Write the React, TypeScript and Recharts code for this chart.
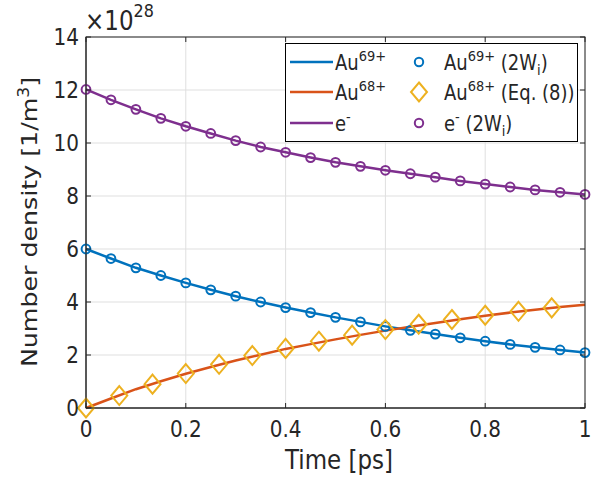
import React from 'react';
import { ComposedChart, Line, Scatter, XAxis, YAxis, CartesianGrid } from 'recharts';

// time grid of the model curves and the 2W_i markers [ps]
const times = [0, 0.05, 0.1, 0.15, 0.2, 0.25, 0.3, 0.35, 0.4, 0.45, 0.5, 0.55, 0.6, 0.65, 0.7, 0.75, 0.8, 0.85, 0.9, 0.95, 1];
// number densities in units of 1e28 1/m^3
const au69 = [6.0, 5.64, 5.29, 5.0, 4.72, 4.46, 4.22, 4.0, 3.79, 3.6, 3.42, 3.25, 3.08, 2.93, 2.79, 2.65, 2.52, 2.4, 2.29, 2.19, 2.09];
const au68 = [0, 0.36, 0.71, 1.01, 1.29, 1.55, 1.79, 2.01, 2.23, 2.41, 2.59, 2.76, 2.92, 3.07, 3.21, 3.35, 3.48, 3.6, 3.71, 3.81, 3.9];
const electrons = [12.02, 11.63, 11.27, 10.93, 10.63, 10.36, 10.09, 9.85, 9.65, 9.45, 9.27, 9.12, 8.97, 8.84, 8.71, 8.57, 8.45, 8.34, 8.23, 8.14, 8.06];

// Eq. (8) points
const eqTimes = [0, 0.0667, 0.1333, 0.2, 0.2667, 0.3333, 0.4, 0.4667, 0.5333, 0.6, 0.6667, 0.7333, 0.8, 0.8667, 0.9333];
const au68Eq = [0, 0.47, 0.9, 1.3, 1.65, 1.98, 2.25, 2.52, 2.75, 2.96, 3.16, 3.34, 3.5, 3.65, 3.78];

const xTicks = [0, 0.2, 0.4, 0.6, 0.8, 1];
const yTicks = [0, 2, 4, 6, 8, 10, 12, 14];

const W = 596;
const H = 479;
const LEFT = 86;
const RIGHT = 585;
const TOP = 37;
const BOTTOM = 408;
const AXIS = '#262626';
const FONT = '"DejaVu Sans", sans-serif';
const SY = 1.15; // the figure is a little taller than wide, text too

const BLUE = '#0072BD';
const RED = '#D95319';
const PURPLE = '#7E2F8E';
const YELLOW = '#EDB120';

const rows = times.map((t, i) => ({ t, au69: au69[i], au68: au68[i], e: electrons[i] }));
const eqRows = eqTimes.map((t, i) => ({ t, v: au68Eq[i] }));

// text stretched vertically about its baseline
const T = ({ x, y, size, anchor, children }: any) => (
  <text
    transform={`translate(${x} ${y}) scale(1 ${SY})`}
    textAnchor={anchor || 'start'}
    fontSize={size}
    fontFamily={FONT}
    fill={AXIS}
  >
    {children}
  </text>
);

const ring = (color: string) => (p: any) => (
  <circle cx={p.cx} cy={p.cy} r={4.4} fill="none" stroke={color} strokeWidth={2} />
);

const diamond = (p: any) => (
  <path
    d={`M${p.cx},${p.cy - 9.5} L${p.cx + 8},${p.cy} L${p.cx},${p.cy + 9.5} L${p.cx - 8},${p.cy} Z`}
    fill="none"
    stroke={YELLOW}
    strokeWidth={2}
  />
);

const XTick = (p: any) => (
  <g>
    <line x1={p.x} x2={p.x} y1={BOTTOM} y2={BOTTOM - 5} stroke={AXIS} />
    <line x1={p.x} x2={p.x} y1={TOP} y2={TOP + 5} stroke={AXIS} />
    <T x={p.x} y={BOTTOM + 29} size={20} anchor="middle">
      {String(p.payload.value)}
    </T>
  </g>
);

const YTick = (p: any) => (
  <g>
    <line x1={LEFT} x2={LEFT + 5} y1={p.y} y2={p.y} stroke={AXIS} />
    <line x1={RIGHT} x2={RIGHT - 5} y1={p.y} y2={p.y} stroke={AXIS} />
    <T x={79} y={p.y + 8} size={20} anchor="end">
      {String(p.payload.value)}
    </T>
  </g>
);

function LegendOverlay() {
  const rowsY = [62, 92, 123];
  const big = 18;
  const small = 13;
  return (
    <svg width={W} height={H} style={{ position: 'absolute', left: 0, top: 0, pointerEvents: 'none' }}>
      <rect x={LEFT} y={TOP} width={RIGHT - LEFT} height={BOTTOM - TOP} fill="none" stroke={AXIS} strokeWidth={1} />
      <T x={85} y={30} size={23}>
        ×10<tspan fontSize={16} dy={-11}>28</tspan>
      </T>

      <rect x={285.5} y={43.5} width={292} height={98} fill="#fff" stroke="#000" strokeWidth={1} />
      {[BLUE, RED, PURPLE].map((c, i) => (
        <line key={c} x1={290} x2={333} y1={rowsY[i]} y2={rowsY[i]} stroke={c} strokeWidth={2.5} />
      ))}
      <T x={335} y={rowsY[0] + 8} size={big}>
        Au<tspan fontSize={small} dy={-8}>69+</tspan>
      </T>
      <T x={335} y={rowsY[1] + 8} size={big}>
        Au<tspan fontSize={small} dy={-8}>68+</tspan>
      </T>
      <T x={335} y={rowsY[2] + 8} size={big}>
        e<tspan fontSize={small} dy={-8}>-</tspan>
      </T>

      <circle cx={419} cy={rowsY[0]} r={4.2} fill="none" stroke={BLUE} strokeWidth={2} />
      <path
        d={`M419,${rowsY[1] - 9.5} L427,${rowsY[1]} L419,${rowsY[1] + 9.5} L411,${rowsY[1]} Z`}
        fill="none"
        stroke={YELLOW}
        strokeWidth={2}
      />
      <circle cx={419} cy={rowsY[2]} r={4.2} fill="none" stroke={PURPLE} strokeWidth={2} />

      <T x={444} y={rowsY[0] + 8} size={big}>
        Au<tspan fontSize={small} dy={-8}>69+</tspan>
        <tspan dy={8}> (2W</tspan>
        <tspan fontSize={small} dy={4}>i</tspan>
        <tspan dy={-4}>)</tspan>
      </T>
      <T x={444} y={rowsY[1] + 8} size={big}>
        Au<tspan fontSize={small} dy={-8}>68+</tspan>
        <tspan dy={8}> (Eq. (8))</tspan>
      </T>
      <T x={444} y={rowsY[2] + 8} size={big}>
        e<tspan fontSize={small} dy={-8}>-</tspan>
        <tspan dy={8}> (2W</tspan>
        <tspan fontSize={small} dy={4}>i</tspan>
        <tspan dy={-4}>)</tspan>
      </T>

      <T x={339} y={469} size={23} anchor="middle">
        Time [ps]
      </T>
      <text
        transform={`translate(37 222) scale(1 ${SY}) rotate(-90)`}
        textAnchor="middle"
        fontSize={22}
        fontFamily={FONT}
        fill={AXIS}
      >
        Number density [1/m<tspan fontSize={15} dy={-8}>3</tspan>
        <tspan dy={8}>]</tspan>
      </text>
    </svg>
  );
}

export default function App() {
  return (
    <div style={{ position: 'absolute', left: 0, top: 0, width: W, height: H, background: '#fff' }}>
      <ComposedChart width={W} height={H} data={rows} margin={{ top: TOP, right: W - RIGHT, bottom: 0, left: 0 }}>
        <CartesianGrid stroke="#dfdfdf" strokeWidth={1} />
        <XAxis
          dataKey="t"
          type="number"
          domain={[0, 1]}
          ticks={xTicks}
          interval={0}
          height={H - BOTTOM}
          tickLine={false}
          axisLine={{ stroke: AXIS }}
          tick={<XTick />}
        />
        <YAxis
          type="number"
          domain={[0, 14]}
          ticks={yTicks}
          interval={0}
          width={LEFT}
          tickLine={false}
          axisLine={{ stroke: AXIS }}
          tick={<YTick />}
        />
        <Line dataKey="au69" stroke={BLUE} strokeWidth={2.5} dot={false} isAnimationActive={false} />
        <Line dataKey="au68" stroke={RED} strokeWidth={2.5} dot={false} isAnimationActive={false} />
        <Line dataKey="e" stroke={PURPLE} strokeWidth={2.5} dot={false} isAnimationActive={false} />
        <Scatter data={rows} dataKey="au69" shape={ring(BLUE)} isAnimationActive={false} />
        <Scatter data={eqRows} dataKey="v" shape={diamond} isAnimationActive={false} />
        <Scatter data={rows} dataKey="e" shape={ring(PURPLE)} isAnimationActive={false} />
      </ComposedChart>
      <LegendOverlay />
    </div>
  );
}
